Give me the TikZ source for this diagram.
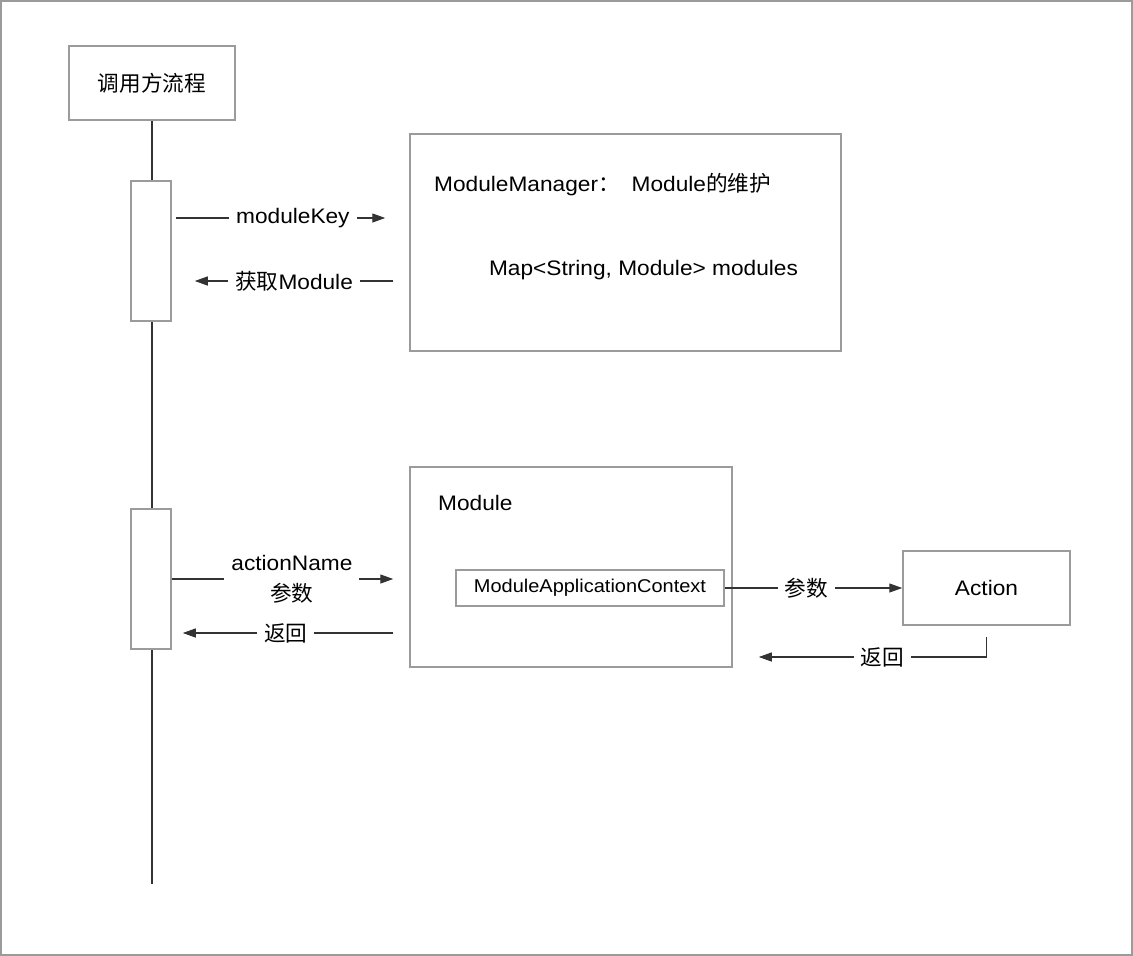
\documentclass[tikz,border=0pt]{standalone}
\usepackage{fontspec}
\setmainfont[FakeStretch=1.08]{Liberation Sans}
\newfontfamily\cjk[Scale=1.03]{Noto Sans CJK SC}
\usetikzlibrary{positioning,arrows.meta}
\definecolor{boxgray}{HTML}{9B9B9B}
\definecolor{linedark}{HTML}{333333}

\begin{document}
\begin{tikzpicture}[
    x=1pt, y=-1pt,
    font=\fontsize{21}{25}\selectfont,
    box/.style={rectangle, draw=boxgray, line width=1.5pt, fill=white, inner sep=0pt},
    arrow/.style={-{Triangle[length=13pt,width=9pt]}, draw=linedark, line width=1.3pt},
    msg/.style={fill=white, inner xsep=7pt, inner ysep=2pt}
]
    \useasboundingbox (0,0) rectangle (1133,956);
    \draw[boxgray, line width=1.5pt] (1,1) rectangle (1132,955);

    % caller and its lifeline
    \node[box, minimum width=166pt, minimum height=74pt] (caller) at (152,83) {{\cjk 调用方流程}};
    \coordinate (lifeend) at (152,884);
    \draw[linedark, line width=1.5pt] (caller) -- (lifeend);
    \node[box, minimum width=40pt, minimum height=140pt] (act1) at (151,251) {};
    \node[box, minimum width=40pt, minimum height=140pt] (act2) at (151,579) {};

    % ModuleManager
    \node[box, minimum width=431pt, minimum height=217pt] (manager) at (625.5,242.5) {};
    \node[anchor=west, inner sep=0pt] (mgrtitle) at (434,185) {ModuleManager{\cjk ：}\hspace{12pt}Module{\cjk 的维护}};
    \node (mgrmap) at (643.5,270) {Map<String, Module> modules};

    % Module and Action
    \node[box, minimum width=322pt, minimum height=200pt] (module) at (571,567) {};
    \node[anchor=west, inner sep=0pt] (modtitle) at (438,503) {Module};
    \node[box, minimum width=268pt, minimum height=36pt, font=\fontsize{18.5}{22}\selectfont] (context) at (590,588) {ModuleApplicationContext};
    \node[box, minimum width=167pt, minimum height=74pt] (action) at (986.5,588) {Action};

    \draw[arrow, shorten <=4pt, shorten >=24pt] ([yshift=33pt]act1.east) -- ([yshift=24.5pt]manager.west)
        node[msg, pos=0.51] {moduleKey};
    \draw[arrow, shorten <=16pt, shorten >=23pt] ([yshift=-38.5pt]manager.west) -- ([yshift=-30pt]act1.east)
        node[msg, pos=0.485] {{\cjk 获取}Module};
    \draw[arrow, shorten >=16pt] (act2.east) -- ([yshift=-12pt]module.west)
        node[msg, pos=0.506, align=center] {actionName\\[6pt]{\cjk 参数}};
    \draw[arrow, shorten <=16pt, shorten >=11pt] ([yshift=-66pt]module.west) -- ([yshift=-54pt]act2.east)
        node[msg, pos=0.52] {{\cjk 返回}};
    \draw[arrow] (context.east) -- (action.west) node[msg, pos=0.46] {{\cjk 参数}};
    \draw[arrow, shorten <=11pt, shorten >=26pt] (action.south) |- ([yshift=-90pt]module.east)
        node[msg, pos=0.705] {{\cjk 返回}};
\end{tikzpicture}
\end{document}
